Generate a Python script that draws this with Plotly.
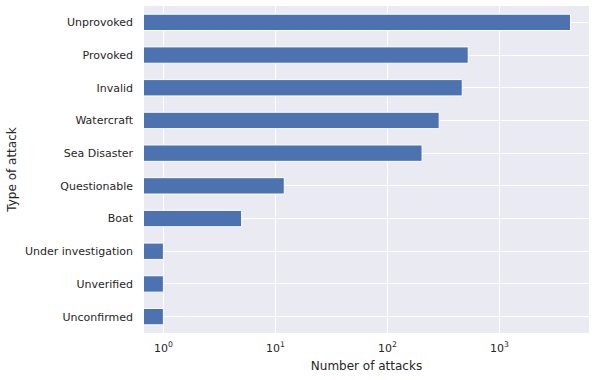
import plotly.graph_objects as go

categories = ["Unprovoked", "Provoked", "Invalid", "Watercraft", "Sea Disaster",
              "Questionable", "Boat", "Under investigation", "Unverified", "Unconfirmed"]
attacks = [4315, 527, 466, 290, 204, 12, 5, 1, 1, 1]
tick_values = [1, 10, 100, 1000]
tick_labels = ["10<sup>0</sup>", "10<sup>1</sup>", "10<sup>2</sup>", "10<sup>3</sup>"]

font = dict(family="DejaVu Sans", size=11, color="#262626")

fig = go.Figure(go.Bar(
    x=attacks, y=categories, orientation="h",
    marker=dict(color="#4C72B0", line=dict(color="white", width=1)),
    width=0.5,
))

fig.update_layout(
    width=596, height=380,
    margin=dict(l=144, r=7, t=6, b=47, autoexpand=False),
    paper_bgcolor="white", plot_bgcolor="#EAEAF2",
    font=font, showlegend=False,
)
fig.update_xaxes(
    type="log", range=[-0.173, 3.80],
    tickvals=tick_values, ticktext=tick_labels,
    showgrid=True, gridcolor="white", gridwidth=1,
    zeroline=False, showline=False, automargin=False,
    ticks="", ticklabelstandoff=7,
    title=dict(text="Number of attacks", font=dict(size=12, color="#262626"), standoff=7),
)
fig.update_yaxes(
    categoryorder="array", categoryarray=categories, autorange="reversed",
    showgrid=True, gridcolor="white", gridwidth=1,
    zeroline=False, showline=False, automargin=False,
    ticks="", ticklabelstandoff=10,
    title=dict(text="Type of attack", font=dict(size=12, color="#262626"), standoff=5),
)

fig.write_html("out.html", config={"displayModeBar": False},
               post_script="document.body.style.margin='0';")
